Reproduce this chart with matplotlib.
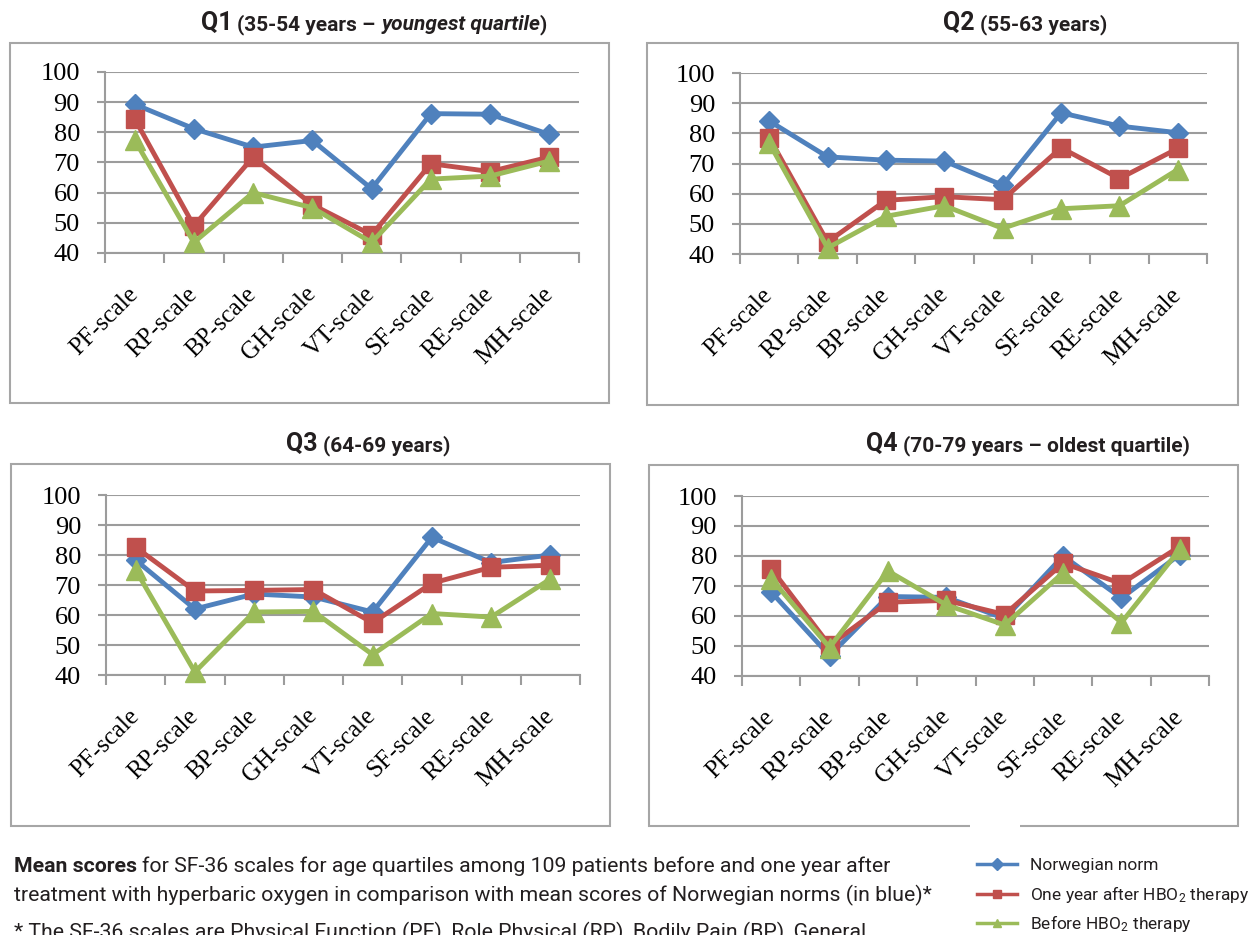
import matplotlib
matplotlib.use("Agg")
import matplotlib.pyplot as plt
import numpy as np
from matplotlib.lines import Line2D
from matplotlib.patches import Rectangle

W, H = 1249, 935

scales = ["PF-scale", "RP-scale", "BP-scale", "GH-scale", "VT-scale", "SF-scale", "RE-scale", "MH-scale"]
series_labels = ["Norwegian norm",
                 "One year after HBO$\\mathregular{_2}$ therapy",
                 "Before HBO$\\mathregular{_2}$ therapy"]

# Q1 (35-54)
q1_norm = [89.3, 81.2, 75.1, 77.3, 61.3, 86.2, 86.0, 79.3]
q1_after = [84.5, 49.0, 71.8, 56.0, 46.0, 69.6, 67.0, 71.8]
q1_before = [77.5, 43.5, 60.0, 55.0, 43.5, 64.5, 65.5, 70.5]
# Q2 (55-63)
q2_norm = [84.1, 72.2, 71.1, 70.8, 62.8, 86.8, 82.4, 80.2]
q2_after = [78.6, 44.0, 57.8, 59.0, 58.0, 75.2, 65.0, 75.0]
q2_before = [76.8, 42.0, 52.5, 56.0, 48.5, 55.0, 56.0, 68.0]
# Q3 (64-69)
q3_norm = [78.3, 62.0, 67.0, 66.0, 61.0, 85.9, 77.5, 80.0]
q3_after = [82.6, 68.0, 68.2, 68.5, 57.4, 70.6, 75.9, 76.6]
q3_before = [75.0, 41.0, 61.0, 61.2, 46.8, 60.5, 59.3, 72.0]
# Q4 (70-79)
q4_norm = [68.0, 46.8, 66.5, 66.2, 59.2, 80.0, 66.0, 80.5]
q4_after = [75.8, 50.2, 64.6, 65.2, 60.5, 77.6, 70.8, 83.2]
q4_before = [72.5, 49.5, 75.0, 63.7, 57.0, 74.4, 57.8, 82.2]

panel_data = [(q1_norm, q1_after, q1_before), (q2_norm, q2_after, q2_before),
              (q3_norm, q3_after, q3_before), (q4_norm, q4_after, q4_before)]

# (text, size, style, space before)
panel_titles = [
    [("Q1", 18, "normal", False), ("(35-54 years \u2013", 15, "normal", True),
     ("youngest quartile", 15, "italic", True), (")", 15, "normal", False)],
    [("Q2", 18, "normal", False), ("(55-63 years)", 15, "normal", True)],
    [("Q3", 18, "normal", False), ("(64-69 years)", 15, "normal", True)],
    [("Q4", 18, "normal", False), ("(70-79 years \u2013 oldest quartile)", 15, "normal", True)],
]

caption_line1 = [("Mean scores", "bold", False),
                 ("for SF-36 scales for age quartiles among 109 patients before and one year after", "normal", True)]
caption_line2 = "treatment with hyperbaric oxygen in comparison with mean scores of Norwegian norms (in blue)*"
caption_line3 = "* The SF-36 scales are Physical Function (PF), Role Physical (RP), Bodily Pain (BP), General"

BLUE, RED, GREEN = "#4F81BD", "#C0504D", "#9BBB59"
GRAY = "#9C9C9C"
BOX = "#A6A6A6"
INK = "#231F20"
SANS = ["Roboto", "DejaVu Sans"]
SERIF = ["Liberation Serif", "DejaVu Serif"]

# layout in pixels (left, top, right, bottom)
axes_px = [(105, 72, 579, 253), (740, 73, 1207, 254), (106, 495, 580, 675), (742, 496, 1209, 676)]
boxes_px = [(10, 43, 609, 403), (647, 43, 1238, 405), (11, 464, 610, 826), (649, 465, 1238, 826)]
title_pos = [(374, 30), (1025, 30), (368, 451), (1028, 451)]

plt.rcParams["font.family"] = SERIF

fig = plt.figure(figsize=(W / 100, H / 100), dpi=100)
renderer = fig.canvas.get_renderer()


def fx(x):
    return x / W


def fy(y):
    return 1 - y / H


def rich_line(pieces, x, y, center=True):
    items = []
    for txt, size, weight, style, space in pieces:
        t = fig.text(0, fy(y), txt, fontsize=size, fontweight=weight, fontstyle=style,
                     family=SANS, ha="left", va="baseline", color=INK)
        w = t.get_window_extent(renderer).width
        gap = size * 100 / 72 * 0.25 if space else 0
        items.append((t, w, gap))
    total = sum(w + g for _, w, g in items)
    cur = x - total / 2 if center else x
    for t, w, g in items:
        cur += g
        t.set_x(fx(cur))
        cur += w


for (l, t, r, b) in boxes_px:
    fig.add_artist(Rectangle((fx(l), fy(b)), fx(r) - fx(l), fy(t) - fy(b), transform=fig.transFigure,
                             fill=False, edgecolor=BOX, linewidth=1.5))

x = np.arange(len(scales))
for (l, t, r, b), (norm, after, before), title, (tx, ty) in zip(axes_px, panel_data, panel_titles, title_pos):
    ax = fig.add_axes([fx(l), fy(b), fx(r) - fx(l), fy(t) - fy(b)])
    ax.plot(x, norm, color=BLUE, lw=3.5, marker="D", ms=10, clip_on=False, zorder=3)
    ax.plot(x, after, color=RED, lw=3.5, marker="s", ms=13, clip_on=False, zorder=4)
    ax.plot(x, before, color=GREEN, lw=3.5, marker="^", ms=15, clip_on=False, zorder=5)
    ax.set_xlim(-0.5, len(scales) - 0.5)
    ax.set_ylim(40, 100)
    ax.set_yticks(range(40, 101, 10))
    ax.set_xticks(np.arange(-0.5, len(scales), 1))
    ax.set_xticklabels([])
    ax.set_xticks(x, minor=True)
    ax.set_xticklabels(scales, minor=True, rotation=45, ha="right", va="center", rotation_mode="anchor")
    ax.tick_params(axis="x", which="minor", length=0, pad=27, labelsize=18)
    ax.tick_params(axis="x", which="major", length=7, width=1.5, color=GRAY)
    ax.tick_params(axis="y", length=6, width=1.5, color=GRAY, labelsize=19, pad=12)
    ax.yaxis.grid(True, color=GRAY, linewidth=1.5)
    ax.set_axisbelow(True)
    for side in ("top", "right"):
        ax.spines[side].set_visible(False)
    for side in ("left", "bottom"):
        ax.spines[side].set_color(GRAY)
        ax.spines[side].set_linewidth(1.5)
    ax.patch.set_alpha(0)
    rich_line([(s, sz, "bold", st, sp) for s, sz, st, sp in title], tx, ty)

# white notch over the last box edge
fig.add_artist(Rectangle((fx(970), fy(840)), fx(1020) - fx(970), fy(820) - fy(840),
                         transform=fig.transFigure, facecolor="white", edgecolor="none"))

rich_line([(s, 15.3, w, "normal", sp) for s, w, sp in caption_line1], 14, 872, center=False)
fig.text(fx(14), fy(901), caption_line2, fontsize=15.3, family=SANS, color=INK, va="baseline")
fig.text(fx(14), fy(938), caption_line3, fontsize=15.3, family=SANS, color=INK, va="baseline")

legend_y = [864, 894, 923]
for label, color, marker, ly in zip(series_labels, [BLUE, RED, GREEN], ["D", "s", "^"], legend_y):
    fig.add_artist(Line2D([fx(977), fx(1017)], [fy(ly), fy(ly)], transform=fig.transFigure,
                          color=color, lw=2.5))
    fig.add_artist(Line2D([fx(997)], [fy(ly)], transform=fig.transFigure, color=color,
                          marker=marker, ms=6, lw=0))
    fig.text(fx(1030), fy(ly + 6), label, fontsize=12.5, family=SANS, color=INK, va="baseline")

fig.savefig("out.png", dpi=100)
